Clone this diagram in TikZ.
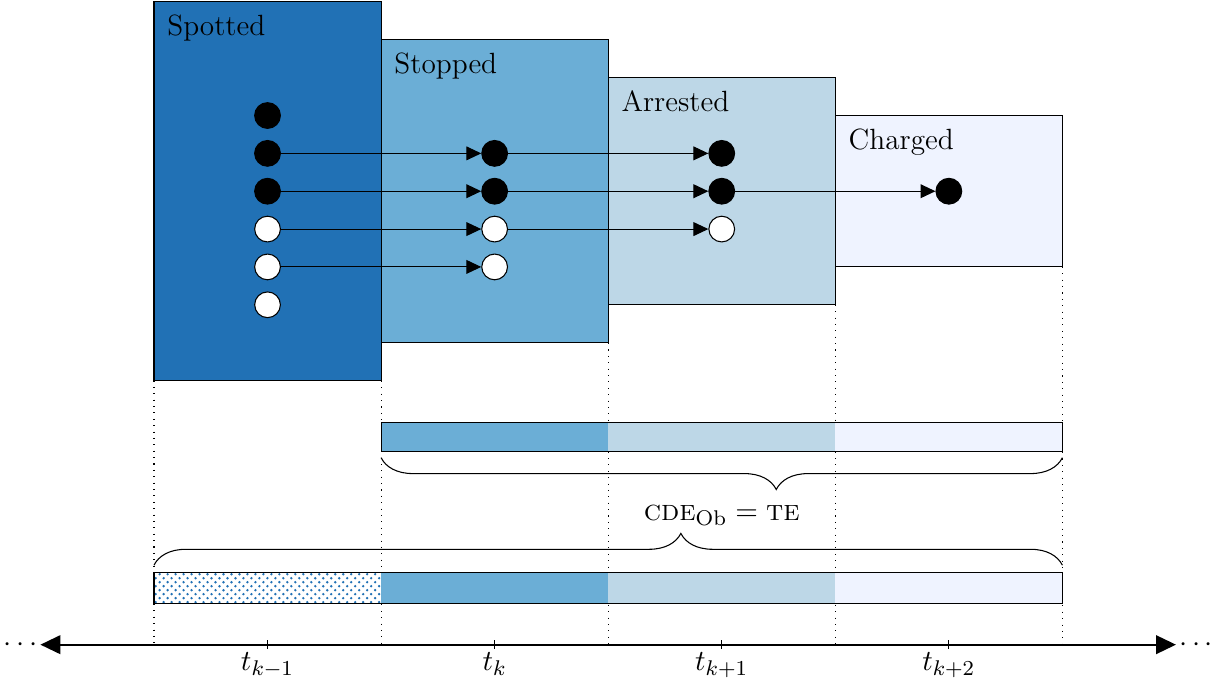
\documentclass[tikz,border=0pt]{standalone}
\usetikzlibrary{arrows.meta, decorations.pathreplacing, patterns}
\definecolor{spotted}{HTML}{2171B5}
\definecolor{stopped}{HTML}{6BAED6}
\definecolor{arrested}{HTML}{BDD7E7}
\definecolor{charged}{HTML}{EFF3FF}
\begin{document}
\begin{tikzpicture}[font=\fontsize{11}{13.2}\selectfont,
    stage/.style={draw=black, thin},
    tag/.style={anchor=north west, inner sep=0.17cm},
    caught/.style={circle, fill=black, draw=black, thin, minimum size=0.34cm, inner sep=0pt},
    free/.style={circle, fill=white, draw=black, thin, minimum size=0.34cm, inner sep=0pt},
    move/.style={-{Triangle[length=5.6pt, width=5.2pt]}, thin},
    cover/.style={decorate, decoration={brace, amplitude=0.42cm, aspect=0.58}}]
    \useasboundingbox (-2.034, 0.026) rectangle (13.963, -8.93);

    \foreach \x/\y in {0/-5, 3/-4.5, 6/-4, 9/-4, 12/-3.5}
      {
        \draw[dotted] (\x, \y) -- (\x, -8.49);
      }

    \filldraw[stage, fill=spotted] (0, 0) rectangle (3, -5);
    \filldraw[stage, fill=stopped] (3, -0.5) rectangle (6, -4.5);
    \filldraw[stage, fill=arrested] (6, -1) rectangle (9, -4);
    \filldraw[stage, fill=charged] (9, -1.5) rectangle (12, -3.5);

    \node[tag] (spotted) at (0, 0) {Spotted};
    \node[tag] (stopped) at (3, -0.5) {Stopped};
    \node[tag] (arrested) at (6, -1) {Arrested};
    \node[tag] (charged) at (9, -1.5) {Charged};

    \node[caught] (sp1) at (1.5, -1.5) {};
    \node[caught] (sp2) at (1.5, -2) {};
    \node[caught] (sp3) at (1.5, -2.5) {};
    \node[free] (sp4) at (1.5, -3) {};
    \node[free] (sp5) at (1.5, -3.5) {};
    \node[free] (sp6) at (1.5, -4) {};
    \node[caught] (st2) at (4.5, -2) {};
    \node[caught] (st3) at (4.5, -2.5) {};
    \node[free] (st4) at (4.5, -3) {};
    \node[free] (st5) at (4.5, -3.5) {};
    \node[caught] (ar2) at (7.5, -2) {};
    \node[caught] (ar3) at (7.5, -2.5) {};
    \node[free] (ar4) at (7.5, -3) {};
    \node[caught] (ch3) at (10.5, -2.5) {};

    \draw[move] (sp2) -- (st2);
    \draw[move] (sp3) -- (st3);
    \draw[move] (sp4) -- (st4);
    \draw[move] (sp5) -- (st5);
    \draw[move] (st2) -- (ar2);
    \draw[move] (st3) -- (ar3);
    \draw[move] (st4) -- (ar4);
    \draw[move] (ar3) -- (ch3);

    \fill[stopped] (3, -5.55) rectangle (6, -5.94);
    \fill[arrested] (6, -5.55) rectangle (9, -5.94);
    \fill[charged] (9, -5.55) rectangle (12, -5.94);
    \draw[thin] (3, -5.55) rectangle (12, -5.94);

    \draw[cover, decoration={mirror}] (3, -6.02) -- (12, -6.02);
    \node (cde) at (7.5, -6.78) {$\textsc{cde}_{\mathrm{Ob}} = \textsc{te}$};
    \draw[cover] (0, -7.44) -- (12, -7.44);

    \fill[white] (0, -7.54) rectangle (3, -7.94);
    \fill[pattern=crosshatch dots, pattern color=spotted] (0, -7.54) rectangle (3, -7.94);
    \fill[stopped] (3, -7.54) rectangle (6, -7.94);
    \fill[arrested] (6, -7.54) rectangle (9, -7.94);
    \fill[charged] (9, -7.54) rectangle (12, -7.94);
    \draw[thin] (0, -7.54) rectangle (12, -7.94);

    \coordinate (axl) at (-1.5, -8.49);
    \coordinate (axr) at (13.5, -8.49);
    \draw[thick, {Triangle[length=7.5pt, width=7pt]}-{Triangle[length=7.5pt, width=7pt]}] (axl) -- (axr);
    \node[anchor=east, inner sep=1pt] (moreleft) at (axl) {$\cdots$};
    \node[anchor=west, inner sep=1pt] (moreright) at (axr) {$\cdots$};

    \foreach \x/\lab [count=\i] in {1.5/{k-1}, 4.5/k, 7.5/{k+1}, 10.5/{k+2}}
      {
        \coordinate (tk\i) at (\x, -8.49);
        \draw[thin] ([yshift=0.06cm]tk\i) -- ([yshift=-0.06cm]tk\i);
        \node[anchor=north, inner sep=1pt] (tl\i) at ([yshift=-0.06cm]tk\i) {$t_{\lab}$};
      }
  \end{tikzpicture}
\end{document}
